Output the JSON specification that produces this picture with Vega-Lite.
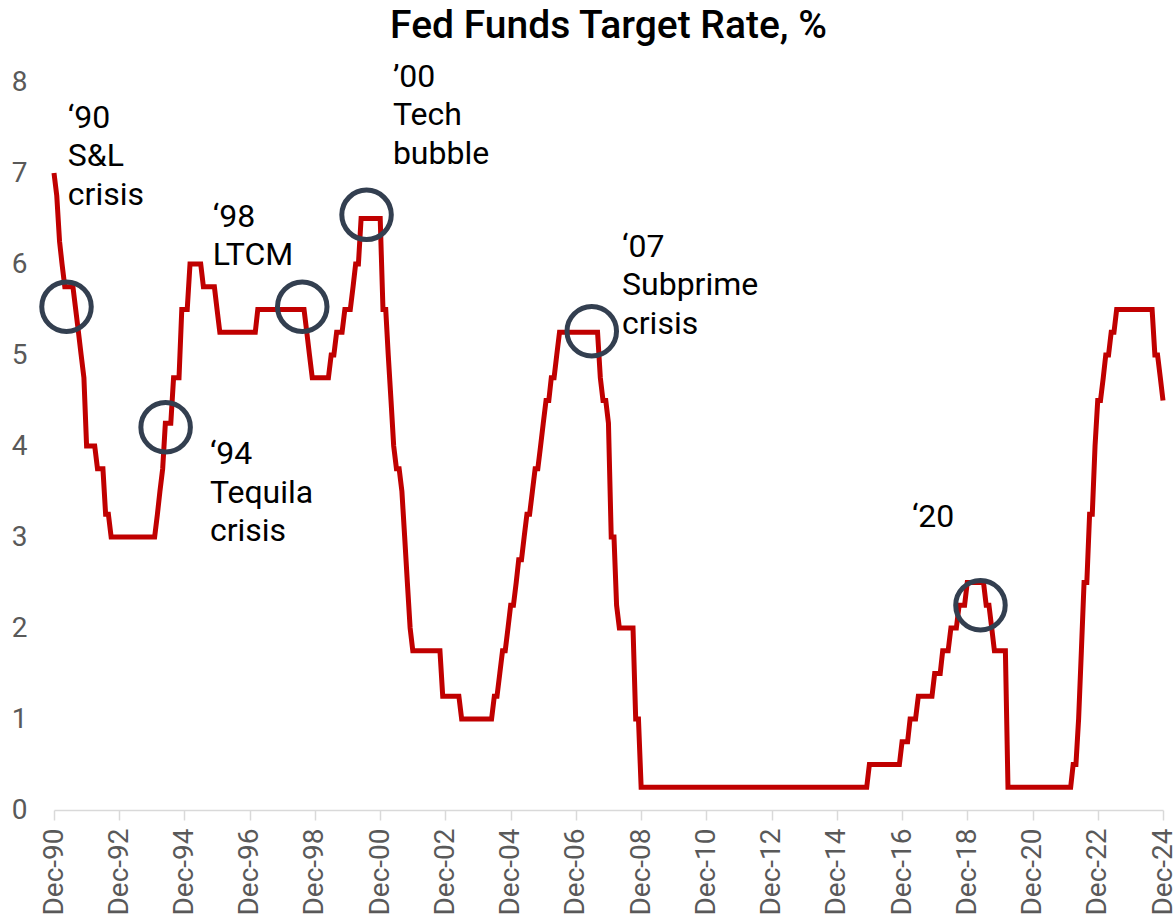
{
  "$schema": "https://vega.github.io/schema/vega-lite/v6.json",
  "width": 1109,
  "height": 728,
  "autosize": "none",
  "padding": {"left": 54, "top": 82, "right": 13, "bottom": 110},
  "background": "white",
  "config": {"view": {"stroke": null}, "font": "Roboto"},
  "title": {"text": "Fed Funds Target Rate, %", "font": "Roboto", "fontSize": 39, "fontWeight": 500, "color": "black", "anchor": "middle", "frame": "group", "baseline": "alphabetic", "offset": -16},
  "datasets": {
    "rate": [
      {"date": "1990-12-01", "v": 7.0}, {"date": "1991-01-01", "v": 6.75}, {"date": "1991-02-01", "v": 6.25}, {"date": "1991-03-01", "v": 6.0},
      {"date": "1991-04-01", "v": 5.75}, {"date": "1991-07-01", "v": 5.75}, {"date": "1991-08-01", "v": 5.5}, {"date": "1991-09-01", "v": 5.25},
      {"date": "1991-10-01", "v": 5.0}, {"date": "1991-11-01", "v": 4.75}, {"date": "1991-12-01", "v": 4.0}, {"date": "1992-03-01", "v": 4.0},
      {"date": "1992-04-01", "v": 3.75}, {"date": "1992-06-01", "v": 3.75}, {"date": "1992-07-01", "v": 3.25}, {"date": "1992-08-01", "v": 3.25},
      {"date": "1992-09-01", "v": 3.0}, {"date": "1994-01-01", "v": 3.0}, {"date": "1994-02-01", "v": 3.25}, {"date": "1994-03-01", "v": 3.5},
      {"date": "1994-04-01", "v": 3.75}, {"date": "1994-05-01", "v": 4.25}, {"date": "1994-07-01", "v": 4.25}, {"date": "1994-08-01", "v": 4.75},
      {"date": "1994-10-01", "v": 4.75}, {"date": "1994-11-01", "v": 5.5}, {"date": "1995-01-01", "v": 5.5}, {"date": "1995-02-01", "v": 6.0},
      {"date": "1995-06-01", "v": 6.0}, {"date": "1995-07-01", "v": 5.75}, {"date": "1995-11-01", "v": 5.75}, {"date": "1995-12-01", "v": 5.5},
      {"date": "1996-01-01", "v": 5.25}, {"date": "1997-02-01", "v": 5.25}, {"date": "1997-03-01", "v": 5.5}, {"date": "1998-08-01", "v": 5.5},
      {"date": "1998-09-01", "v": 5.25}, {"date": "1998-10-01", "v": 5.0}, {"date": "1998-11-01", "v": 4.75}, {"date": "1999-05-01", "v": 4.75},
      {"date": "1999-06-01", "v": 5.0}, {"date": "1999-07-01", "v": 5.0}, {"date": "1999-08-01", "v": 5.25}, {"date": "1999-10-01", "v": 5.25},
      {"date": "1999-11-01", "v": 5.5}, {"date": "2000-01-01", "v": 5.5}, {"date": "2000-02-01", "v": 5.75}, {"date": "2000-03-01", "v": 6.0},
      {"date": "2000-04-01", "v": 6.0}, {"date": "2000-05-01", "v": 6.5}, {"date": "2000-12-01", "v": 6.5}, {"date": "2001-01-01", "v": 5.5},
      {"date": "2001-02-01", "v": 5.5}, {"date": "2001-03-01", "v": 5.0}, {"date": "2001-04-01", "v": 4.5}, {"date": "2001-05-01", "v": 4.0},
      {"date": "2001-06-01", "v": 3.75}, {"date": "2001-07-01", "v": 3.75}, {"date": "2001-08-01", "v": 3.5}, {"date": "2001-09-01", "v": 3.0},
      {"date": "2001-10-01", "v": 2.5}, {"date": "2001-11-01", "v": 2.0}, {"date": "2001-12-01", "v": 1.75}, {"date": "2002-10-01", "v": 1.75},
      {"date": "2002-11-01", "v": 1.25}, {"date": "2003-05-01", "v": 1.25}, {"date": "2003-06-01", "v": 1.0}, {"date": "2004-05-01", "v": 1.0},
      {"date": "2004-06-01", "v": 1.25}, {"date": "2004-07-01", "v": 1.25}, {"date": "2004-08-01", "v": 1.5}, {"date": "2004-09-01", "v": 1.75},
      {"date": "2004-10-01", "v": 1.75}, {"date": "2004-11-01", "v": 2.0}, {"date": "2004-12-01", "v": 2.25}, {"date": "2005-01-01", "v": 2.25},
      {"date": "2005-02-01", "v": 2.5}, {"date": "2005-03-01", "v": 2.75}, {"date": "2005-04-01", "v": 2.75}, {"date": "2005-05-01", "v": 3.0},
      {"date": "2005-06-01", "v": 3.25}, {"date": "2005-07-01", "v": 3.25}, {"date": "2005-08-01", "v": 3.5}, {"date": "2005-09-01", "v": 3.75},
      {"date": "2005-10-01", "v": 3.75}, {"date": "2005-11-01", "v": 4.0}, {"date": "2005-12-01", "v": 4.25}, {"date": "2006-01-01", "v": 4.5},
      {"date": "2006-02-01", "v": 4.5}, {"date": "2006-03-01", "v": 4.75}, {"date": "2006-04-01", "v": 4.75}, {"date": "2006-05-01", "v": 5.0},
      {"date": "2006-06-01", "v": 5.25}, {"date": "2007-08-01", "v": 5.25}, {"date": "2007-09-01", "v": 4.75}, {"date": "2007-10-01", "v": 4.5},
      {"date": "2007-11-01", "v": 4.5}, {"date": "2007-12-01", "v": 4.25}, {"date": "2008-01-01", "v": 3.0}, {"date": "2008-02-01", "v": 3.0},
      {"date": "2008-03-01", "v": 2.25}, {"date": "2008-04-01", "v": 2.0}, {"date": "2008-09-01", "v": 2.0}, {"date": "2008-10-01", "v": 1.0},
      {"date": "2008-11-01", "v": 1.0}, {"date": "2008-12-01", "v": 0.25}, {"date": "2015-11-01", "v": 0.25}, {"date": "2015-12-01", "v": 0.5},
      {"date": "2016-11-01", "v": 0.5}, {"date": "2016-12-01", "v": 0.75}, {"date": "2017-02-01", "v": 0.75}, {"date": "2017-03-01", "v": 1.0},
      {"date": "2017-05-01", "v": 1.0}, {"date": "2017-06-01", "v": 1.25}, {"date": "2017-11-01", "v": 1.25}, {"date": "2017-12-01", "v": 1.5},
      {"date": "2018-02-01", "v": 1.5}, {"date": "2018-03-01", "v": 1.75}, {"date": "2018-05-01", "v": 1.75}, {"date": "2018-06-01", "v": 2.0},
      {"date": "2018-08-01", "v": 2.0}, {"date": "2018-09-01", "v": 2.25}, {"date": "2018-11-01", "v": 2.25}, {"date": "2018-12-01", "v": 2.5},
      {"date": "2019-06-01", "v": 2.5}, {"date": "2019-07-01", "v": 2.25}, {"date": "2019-08-01", "v": 2.25}, {"date": "2019-09-01", "v": 2.0},
      {"date": "2019-10-01", "v": 1.75}, {"date": "2020-02-01", "v": 1.75}, {"date": "2020-03-01", "v": 0.25}, {"date": "2022-02-01", "v": 0.25},
      {"date": "2022-03-01", "v": 0.5}, {"date": "2022-04-01", "v": 0.5}, {"date": "2022-05-01", "v": 1.0}, {"date": "2022-06-01", "v": 1.75},
      {"date": "2022-07-01", "v": 2.5}, {"date": "2022-08-01", "v": 2.5}, {"date": "2022-09-01", "v": 3.25}, {"date": "2022-10-01", "v": 3.25},
      {"date": "2022-11-01", "v": 4.0}, {"date": "2022-12-01", "v": 4.5}, {"date": "2023-01-01", "v": 4.5}, {"date": "2023-02-01", "v": 4.75},
      {"date": "2023-03-01", "v": 5.0}, {"date": "2023-04-01", "v": 5.0}, {"date": "2023-05-01", "v": 5.25}, {"date": "2023-06-01", "v": 5.25},
      {"date": "2023-07-01", "v": 5.5}, {"date": "2024-08-01", "v": 5.5}, {"date": "2024-09-01", "v": 5.0}, {"date": "2024-10-01", "v": 5.0},
      {"date": "2024-11-01", "v": 4.75}, {"date": "2024-12-01", "v": 4.5}
    ],
    "circles": [
      {"date": "1991-04-20", "v": 5.53},
      {"date": "1994-05-04", "v": 4.205},
      {"date": "1998-07-12", "v": 5.53},
      {"date": "2000-07-01", "v": 6.54},
      {"date": "2007-05-28", "v": 5.26},
      {"date": "2019-04-28", "v": 2.25}
    ],
    "notes": [
      {"date": "1991-05-05", "v": 7.5, "label": "‘90\nS&L\ncrisis"},
      {"date": "1995-10-15", "v": 6.41, "label": "‘98\nLTCM"},
      {"date": "2001-04-22", "v": 7.95, "label": "’00\nTech\nbubble"},
      {"date": "2008-05-01", "v": 6.08, "label": "‘07\nSubprime\ncrisis"},
      {"date": "1995-09-12", "v": 3.8, "label": "‘94\nTequila\ncrisis"},
      {"date": "2017-03-21", "v": 3.11, "label": "‘20"}
    ]
  },
  "layer": [
    {
      "data": {"name": "rate"},
      "mark": {"type": "line", "color": "#c00000", "strokeWidth": 5},
      "encoding": {
        "x": {
          "field": "date", "type": "temporal",
          "scale": {"type": "utc", "domain": [{"year": 1990, "month": 12, "date": 1, "utc": true}, {"year": 2024, "month": 12, "date": 1, "utc": true}]},
          "axis": {
            "title": null,
            "values": [
              {"year": 1990, "month": 12, "date": 1, "utc": true}, {"year": 1992, "month": 12, "date": 1, "utc": true},
              {"year": 1994, "month": 12, "date": 1, "utc": true}, {"year": 1996, "month": 12, "date": 1, "utc": true},
              {"year": 1998, "month": 12, "date": 1, "utc": true}, {"year": 2000, "month": 12, "date": 1, "utc": true},
              {"year": 2002, "month": 12, "date": 1, "utc": true}, {"year": 2004, "month": 12, "date": 1, "utc": true},
              {"year": 2006, "month": 12, "date": 1, "utc": true}, {"year": 2008, "month": 12, "date": 1, "utc": true},
              {"year": 2010, "month": 12, "date": 1, "utc": true}, {"year": 2012, "month": 12, "date": 1, "utc": true},
              {"year": 2014, "month": 12, "date": 1, "utc": true}, {"year": 2016, "month": 12, "date": 1, "utc": true},
              {"year": 2018, "month": 12, "date": 1, "utc": true}, {"year": 2020, "month": 12, "date": 1, "utc": true},
              {"year": 2022, "month": 12, "date": 1, "utc": true}, {"year": 2024, "month": 12, "date": 1, "utc": true}
            ],
            "format": "%b-%y",
            "labelAngle": -90,
            "labelFont": "Roboto",
            "labelFontSize": 28,
            "labelColor": "#595959",
            "labelPadding": 8,
            "labelFlush": false,
            "labelOverlap": false,
            "labelBound": false,
            "tickColor": "#d9d9d9",
            "tickSize": 10,
            "tickWidth": 1.5,
            "domainColor": "#d9d9d9",
            "domainWidth": 1.5,
            "grid": false
          }
        },
        "y": {
          "field": "v", "type": "quantitative",
          "scale": {"domain": [0, 8], "nice": false},
          "axis": {
            "title": null,
            "values": [0, 1, 2, 3, 4, 5, 6, 7, 8],
            "format": "d",
            "labelFont": "Roboto",
            "labelFontSize": 28,
            "labelColor": "#595959",
            "labelPadding": 27,
            "ticks": false,
            "tickSize": 0,
            "domain": false,
            "grid": false
          }
        }
      }
    },
    {
      "data": {"name": "circles"},
      "mark": {"type": "point", "shape": "circle", "filled": false, "size": 2450, "strokeWidth": 5, "color": "#333f50", "opacity": 1},
      "encoding": {
        "x": {"field": "date", "type": "temporal"},
        "y": {"field": "v", "type": "quantitative"}
      }
    },
    {
      "data": {"name": "notes"},
      "mark": {"type": "text", "align": "left", "baseline": "alphabetic", "font": "Roboto", "fontSize": 32, "lineHeight": 38.5, "lineBreak": "\n", "color": "black"},
      "encoding": {
        "x": {"field": "date", "type": "temporal"},
        "y": {"field": "v", "type": "quantitative"},
        "text": {"field": "label", "type": "nominal"}
      }
    }
  ]
}
